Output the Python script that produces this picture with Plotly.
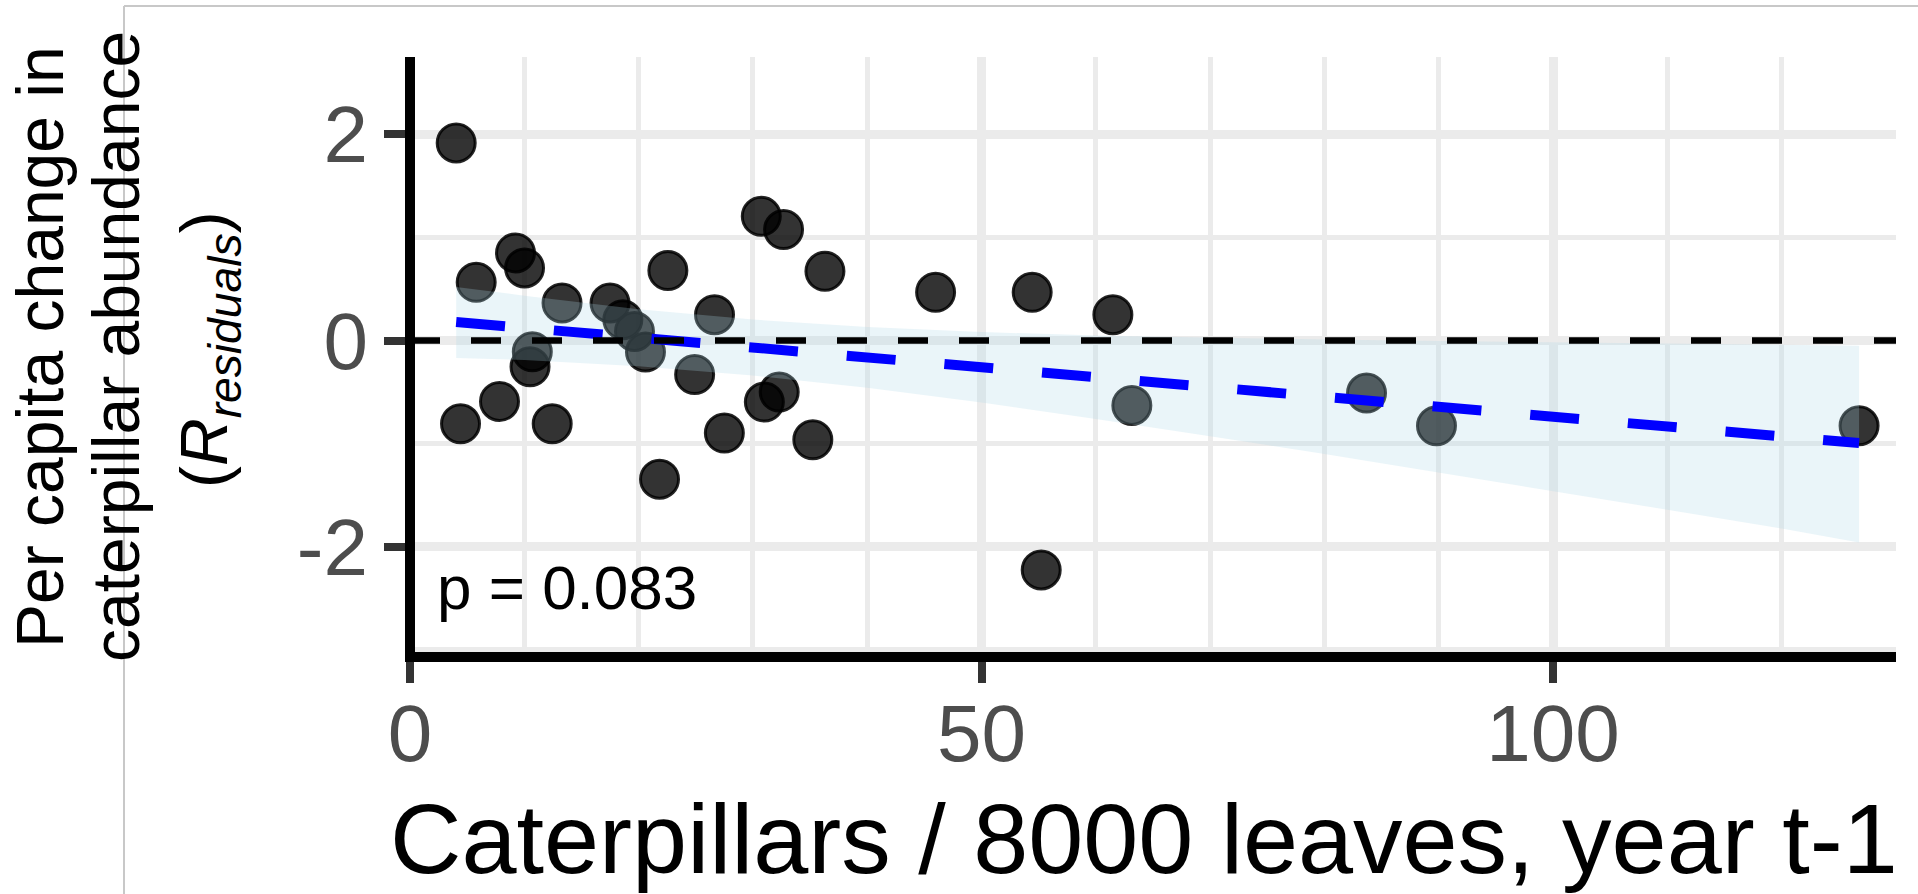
import plotly.graph_objects as go

# ---- data ----
x_vals = [4.04, 4.42, 5.79, 7.83, 9.23, 10.02, 10.7, 10.5, 12.44, 13.3, 17.5, 18.62, 19.64,
          20.6, 21.83, 22.56, 24.9, 26.64, 27.5, 30.73, 31.0, 32.68, 32.3, 35.24, 36.3,
          45.98, 54.43, 55.22, 61.49, 63.15, 83.68, 89.8, 126.77]
y_vals = [1.917, -0.808, 0.564, -0.591, 0.85, 0.704, -0.11, -0.255, -0.808, 0.364, 0.364, 0.202, 0.088,
          -0.112, -1.345, 0.678, -0.33, 0.25, -0.898, 1.205, -0.597, 1.076, -0.5, -0.963, 0.671,
          0.467, 0.467, -2.225, 0.25, -0.63, -0.51, -0.827, -0.827]

fit_x = [4.04, 126.77]
fit_y = [0.18, -0.995]

rib_x = [4.04, 10, 20, 30, 40, 50, 60, 70, 80, 90, 100, 110, 120, 126.77]
rib_hi = [0.52, 0.435, 0.304, 0.203, 0.131, 0.082, 0.049, 0.026, 0.009, -0.006, -0.018, -0.028, -0.036, -0.05]
rib_lo = [-0.17, -0.189, -0.25, -0.34, -0.459, -0.602, -0.761, -0.928, -1.10, -1.28, -1.46, -1.642, -1.824, -1.96]

ref_x = [0, 130]
ref_y = [0, 0]

x_ticks = [0, 50, 100]
x_tick_text = ["0", "50", "100"]
y_ticks = [-2, 0, 2]
y_tick_text = ["-2", "0", "2"]
x_range = [0, 130]
y_range = [-3.07, 2.75]

p_label = "p = 0.083"
x_title = "Caterpillars / 8000 leaves, year t-1"
y_title_lines = ["Per capita change in", "caterpillar abundance",
                 "(<i>R</i><sub><i>residuals</i></sub>)"]

FONT = "Liberation Sans, Arial, sans-serif"
W, H = 1918, 894
L, R, T, B = 410, 22, 57, 237
PW, PH = W - L - R, H - T - B


def px_x(p):
    return (p - L) / PW


def px_y(p):
    return (H - B - p) / PH


fig = go.Figure()

fig.add_trace(go.Scatter(
    x=x_vals, y=y_vals, mode="markers",
    marker=dict(size=38, color="rgba(0,0,0,0.8)",
                line=dict(color="rgba(0,0,0,0.85)", width=3)),
    hoverinfo="skip"))

fig.add_trace(go.Scatter(
    x=rib_x + rib_x[::-1], y=rib_hi + rib_lo[::-1],
    mode="lines", fill="toself", fillcolor="rgba(173,216,230,0.25)",
    line=dict(width=0), hoverinfo="skip"))

fig.add_trace(go.Scatter(
    x=fit_x, y=fit_y, mode="lines",
    line=dict(color="#0000FF", width=10, dash="49px,49px"), hoverinfo="skip"))

fig.add_trace(go.Scatter(
    x=ref_x, y=ref_y, mode="lines",
    line=dict(color="black", width=6.5, dash="30px,31px"), hoverinfo="skip"))

grid_c = "#EBEBEB"
fig.update_xaxes(
    range=x_range, tickmode="array", tickvals=x_ticks, ticktext=x_tick_text,
    showgrid=True, gridcolor=grid_c, gridwidth=9,
    minor=dict(tickmode="linear", tick0=0, dtick=10, showgrid=True,
               gridcolor=grid_c, gridwidth=4.5, ticks=""),
    zeroline=False, showline=False,
    ticks="outside", ticklen=25, tickwidth=8, tickcolor="#333333",
    tickfont=dict(family=FONT, size=80, color="#4D4D4D"),
    ticklabelstandoff=-18)
fig.update_yaxes(
    range=y_range, tickmode="array", tickvals=y_ticks, ticktext=y_tick_text,
    showgrid=True, gridcolor=grid_c, gridwidth=9,
    minor=dict(tickmode="linear", tick0=-3, dtick=1, showgrid=True,
               gridcolor=grid_c, gridwidth=4.5, ticks=""),
    zeroline=False, showline=False,
    ticks="outside", ticklen=25, tickwidth=8, tickcolor="#333333",
    tickfont=dict(family=FONT, size=80, color="#4D4D4D"),
    ticklabelstandoff=0)

shapes = [
    # axis lines
    dict(type="line", xref="paper", yref="paper", x0=px_x(405), x1=1, y0=0, y1=0,
         line=dict(color="black", width=10), layer="above"),
    dict(type="line", xref="paper", yref="paper", x0=0, x1=0, y0=0, y1=1,
         line=dict(color="black", width=10), layer="above"),
    # thin frame lines of the picture
    dict(type="line", xref="paper", yref="paper", x0=px_x(124), x1=px_x(W), y0=px_y(6), y1=px_y(6),
         line=dict(color="#C8C8C8", width=2), layer="above"),
    dict(type="line", xref="paper", yref="paper", x0=px_x(124), x1=px_x(124), y0=px_y(6), y1=px_y(H),
         line=dict(color="#C8C8C8", width=2), layer="above"),
]

annotations = [
    dict(text=p_label, xref="x", yref="y", x=2.2, y=-2.4, xanchor="left", yanchor="middle",
         showarrow=False, font=dict(family=FONT, size=62, color="black")),
    dict(text=x_title, xref="paper", yref="paper", x=px_x(1144), y=px_y(839), xanchor="center",
         yanchor="middle", showarrow=False, font=dict(family=FONT, size=99, color="black")),
]
line_cx = [40, 116, 209]
line_cy = [347, 347, 350]
for txt, cx, cy in zip(y_title_lines, line_cx, line_cy):
    annotations.append(dict(text=txt, xref="paper", yref="paper", x=px_x(cx), y=px_y(cy),
                            xanchor="center", yanchor="middle", textangle=-90, showarrow=False,
                            font=dict(family=FONT, size=66, color="black")))

fig.update_layout(
    width=W, height=H, margin=dict(l=L, r=R, t=T, b=B, autoexpand=False),
    paper_bgcolor="white", plot_bgcolor="white", showlegend=False,
    shapes=shapes, annotations=annotations)

fig.write_html("out.html")
